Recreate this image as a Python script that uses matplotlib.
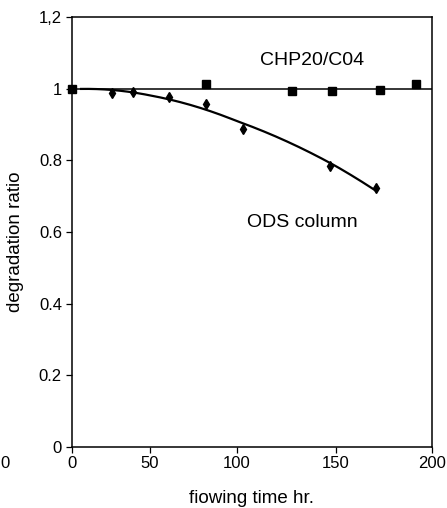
import numpy as np
import matplotlib
matplotlib.use("Agg")
import matplotlib.pyplot as plt

plt.rcParams["font.family"] = ["Liberation Sans", "DejaVu Sans"]

# CHP20/C04 column (squares)
chp_time = [0, 82, 128, 148, 173, 192]
chp_ratio = [1.0, 1.013, 0.994, 0.994, 0.996, 1.013]

# ODS column (diamonds)
ods_time = [26, 39, 61, 82, 103, 147, 171]
ods_ratio = [0.989, 0.992, 0.978, 0.957, 0.888, 0.785, 0.722]
ods_fit_start = 6

reference_level = 1.0

x_ticks = [0, 50, 100, 150, 200]
y_ticks = [0, 0.2, 0.4, 0.6, 0.8, 1.0, 1.2]
y_ticklabels = ["0", "0.2", "0.4", "0.6", "0.8", "1", "1,2"]

# the scanned axis is not evenly spaced: where each x tick really sits (0..200 span)
x_tick_pos = [0, 43.5, 91.7, 146.8, 200]


def _fwd(x):
    return np.interp(x, x_ticks, x_tick_pos)


def _inv(p):
    return np.interp(p, x_tick_pos, x_ticks)


fig = plt.figure(figsize=(4.47, 5.08), dpi=100)
ax = fig.add_axes([0.1604, 0.1207, 0.8054, 0.8453])
ax.set_xscale("function", functions=(_fwd, _inv))

# flat line for CHP20/C04, quadratic trendline for ODS
ax.axhline(reference_level, color="black", lw=1.1, zorder=2)

quad = np.polyfit(ods_time, ods_ratio, 2)
xq = np.linspace(ods_fit_start, max(ods_time), 200)
ax.plot(xq, np.polyval(quad, xq), color="black", lw=1.6, zorder=2)

ax.plot(ods_time, ods_ratio, linestyle="none", marker="d", markersize=5.5,
        color="black", zorder=3, clip_on=False)
ax.plot(chp_time, chp_ratio, linestyle="none", marker="s", markersize=5.5,
        color="black", zorder=4, clip_on=False)

ax.set_xlim(0, 200)
ax.set_ylim(0, 1.2)
ax.set_xticks(x_ticks)
ax.set_xticklabels([str(t) for t in x_ticks])
ax.set_yticks(y_ticks)
ax.set_yticklabels(y_ticklabels)
ax.xaxis.set_minor_locator(matplotlib.ticker.NullLocator())
ax.tick_params(axis="both", direction="out", length=4, width=0.9,
               labelsize=12, pad=3, colors="black")

for sp in ax.spines.values():
    sp.set_linewidth(1.1)
    sp.set_color("black")

ax.set_ylabel("degradation ratio", fontsize=13.5)
ax.yaxis.set_label_coords(-0.1325, 0.478)
ax.set_xlabel("fiowing time hr.", fontsize=13.5)
ax.xaxis.label.set_va("center")
ax.xaxis.set_label_coords(0.5, -0.121)

ax.text(0.667, 0.899, "CHP20/C04", transform=ax.transAxes, fontsize=14,
        ha="center", va="center")
ax.text(0.641, 0.522, "ODS column", transform=ax.transAxes, fontsize=14,
        ha="center", va="center")

# stray tick label of the neighbouring panel at the left edge
fig.text(0.0, 1 - 463 / 508, "0", fontsize=12, ha="left", va="center")

fig.savefig("out.png", dpi=100)
